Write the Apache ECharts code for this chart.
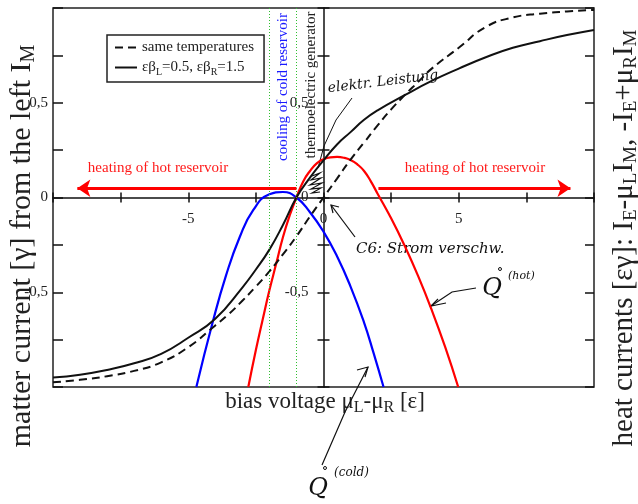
<!DOCTYPE html>
<html>
<head>
<meta charset="utf-8">
<script src="https://cdn.jsdelivr.net/npm/echarts@6.0.0/dist/echarts.min.js"></script>
<style>
  html, body { margin: 0; padding: 0; background: #fff; }
  #chart { width: 638px; height: 504px; }
</style>
</head>
<body>
<div id="chart"></div>
<script>
// matter current, same temperatures (dashed)
const sameTempX = [-10, -9, -8, -7, -6, -5, -4, -3.5, -3, -2.5, -2, -1.5, -1, -0.5, 0, 0.5, 1, 1.5, 2, 2.5, 3, 3.5, 4, 5, 6, 7, 8, 9, 10];
const sameTempY = [-0.975, -0.962, -0.943, -0.915, -0.87, -0.79, -0.675, -0.615, -0.545, -0.47, -0.39, -0.3, -0.205, -0.1, 0, 0.1, 0.2, 0.29, 0.38, 0.465, 0.54, 0.61, 0.68, 0.79, 0.9, 0.95, 0.97, 0.982, 0.99];

// matter current, eps*beta_L = 0.5, eps*beta_R = 1.5 (solid)
const unequalX = [-10, -9, -8, -7, -6, -5, -4, -3, -2.5, -2, -1.5, -1, -0.5, 0, 0.5, 1, 1.5, 2, 3, 4, 5, 6, 7, 8, 9, 10];
const unequalY = [-0.95, -0.935, -0.91, -0.875, -0.825, -0.74, -0.64, -0.475, -0.38, -0.275, -0.145, 0, 0.105, 0.196, 0.28, 0.345, 0.41, 0.46, 0.54, 0.615, 0.68, 0.74, 0.79, 0.825, 0.857, 0.884];

// heat current of the hot reservoir (red)
const hotX = [-2.78, -2.5, -2.25, -2, -1.75, -1.5, -1.25, -1, -0.75, -0.5, -0.25, 0, 0.25, 0.5, 0.75, 1, 1.25, 1.5, 1.75, 2, 2.5, 3, 3.5, 4, 4.5, 4.98];
const hotY = [-1, -0.805, -0.645, -0.49, -0.35, -0.21, -0.095, 0, 0.085, 0.14, 0.18, 0.202, 0.212, 0.214, 0.21, 0.198, 0.175, 0.14, 0.085, 0.02, -0.11, -0.255, -0.415, -0.593, -0.79, -1];

// heat current of the cold reservoir (blue)
const coldX = [-4.7, -4.1, -3.6, -3.1, -2.6, -2, -1.5, -1, -0.5, 0, 0.5, 1, 1.5, 1.85, 2.22];
const coldY = [-1, -0.66, -0.41, -0.21, -0.067, 0.017, 0.029, 0, -0.078, -0.18, -0.31, -0.47, -0.66, -0.82, -1];

// regions and tick labels
const regionLines = [-2, -1];
const heatArrowLeft = [-1, -9.1];
const heatArrowRight = [2.03, 9.13];
const heatArrowY = 0.049;
const xTickLabels = [-5, 0, 5];
const yTickLabels = { '0.5': '0,5', '0': '0', '-0.5': '-0,5' };

const X_MIN = -10, X_MAX = 10, Y_MIN = -1, Y_MAX = 1;
const GRID = { left: 53, top: 8, width: 541, height: 379 };

const serif = '"Liberation Serif", "Times New Roman", serif';
const hand = '"DejaVu Serif", serif';
const pairs = (xs, ys) => xs.map((x, i) => [x, ys[i]]);

const xFmt = v => (xTickLabels.indexOf(Math.round(v * 100) / 100) >= 0 ? String(v) : '');
const yFmt = v => {
  const k = String(Math.round(v * 100) / 100);
  return yTickLabels[k] !== undefined ? yTickLabels[k] : '';
};

const axisColor = '#111';
// the centre axes cross at zero; shift them in from the frame edges
const xZeroOffset = -GRID.height * (0 - Y_MIN) / (Y_MAX - Y_MIN);
const yZeroOffset = -GRID.width * (0 - X_MIN) / (X_MAX - X_MIN);

const centreX = (inside, labels) => ({
  type: 'value', min: X_MIN, max: X_MAX, interval: 2.5, position: 'bottom', offset: xZeroOffset,
  axisLine: { show: !inside, onZero: false, lineStyle: { color: axisColor, width: 1.5 } },
  axisTick: { show: true, inside: inside, length: 5, lineStyle: { color: axisColor, width: 1.5 } },
  axisLabel: { show: labels, margin: 14, formatter: xFmt, fontFamily: serif, fontSize: 15, color: '#222' },
  splitLine: { show: false }
});

const centreY = (inside, labels) => ({
  type: 'value', min: Y_MIN, max: Y_MAX, interval: 0.25, position: 'left', offset: yZeroOffset,
  axisLine: { show: !inside, onZero: false, lineStyle: { color: axisColor, width: 1.5 } },
  axisTick: { show: true, inside: inside, length: 6, lineStyle: { color: axisColor, width: 1.5 } },
  axisLabel: { show: labels, margin: 15, formatter: yFmt, fontFamily: serif, fontSize: 15, color: '#222' },
  splitLine: { show: false }
});

const frameY = (position, labels, len) => ({
  type: 'value', min: Y_MIN, max: Y_MAX, interval: 0.25, position: position,
  axisLine: { show: false, onZero: false },
  axisTick: { show: true, inside: true, length: len, lineStyle: { color: axisColor, width: 1.5 } },
  axisLabel: { show: labels, margin: 5, formatter: yFmt, fontFamily: serif, fontSize: 15, color: '#222' },
  splitLine: { show: false }
});

const chart = echarts.init(document.getElementById('chart'), null, { renderer: 'canvas' });

const option = {
  animation: false,
  backgroundColor: '#fff',
  grid: {
    left: GRID.left, top: GRID.top, width: GRID.width, height: GRID.height,
    show: true, borderColor: '#222', borderWidth: 1.5, backgroundColor: 'transparent',
    containLabel: false, outerBoundsMode: 'none'
  },
  legend: {
    orient: 'vertical', left: 107, top: 35,
    data: ['same temperatures', 'εβ_L=0.5, εβ_R=1.5'],
    borderColor: '#222', borderWidth: 1.5, padding: [5, 10, 5, 7],
    itemWidth: 22, itemHeight: 14, itemGap: 5,
    itemStyle: { opacity: 0 },
    formatter: name => name.replace(/_(\w)/g, '{sub|$1}'),
    textStyle: {
      fontFamily: serif, fontSize: 15, color: '#222',
      rich: { sub: { fontFamily: serif, fontSize: 10, color: '#222', padding: [9, 0, 0, 0] } }
    }
  },
  xAxis: [centreX(false, true), centreX(true, false)],
  yAxis: [centreY(false, true), centreY(true, false), frameY('left', true, 10), frameY('right', false, 9)],
  series: [
    {
      name: 'cold', type: 'line', data: pairs(coldX, coldY), smooth: true, symbol: 'none',
      lineStyle: { color: '#0000ff', width: 2.2 }, z: 3,
      markLine: {
        silent: true, symbol: ['none', 'none'], label: { show: false },
        lineStyle: { color: '#2fbf2f', width: 1, type: [1, 2] },
        data: regionLines.map(v => ({ xAxis: v }))
      }
    },
    {
      name: 'hot', type: 'line', data: pairs(hotX, hotY), smooth: true, symbol: 'none',
      lineStyle: { color: '#ff0000', width: 2.2 }, z: 3,
      markLine: {
        silent: true, symbol: ['none', 'arrow'], symbolSize: 13, label: { show: false },
        lineStyle: { color: '#ff0000', width: 3, type: 'solid' },
        data: [
          [{ coord: [heatArrowLeft[0], heatArrowY] }, { coord: [heatArrowLeft[1], heatArrowY] }],
          [{ coord: [heatArrowRight[0], heatArrowY] }, { coord: [heatArrowRight[1], heatArrowY] }]
        ]
      }
    },
    {
      name: 'same temperatures', type: 'line', data: pairs(sameTempX, sameTempY), smooth: true, symbol: 'none',
      lineStyle: { color: '#111', width: 2, type: [8, 5] }, itemStyle: { color: '#111' }, z: 4
    },
    {
      name: 'εβ_L=0.5, εβ_R=1.5', type: 'line', data: pairs(unequalX, unequalY), smooth: true, symbol: 'none',
      lineStyle: { color: '#111', width: 2 }, itemStyle: { color: '#111' }, z: 4
    }
  ],
  graphic: [
    // axis titles
    {
      type: 'text', x: 22, y: 246, rotation: Math.PI / 2,
      style: {
        text: 'matter current [γ] from the left I{sub|M}', align: 'center', verticalAlign: 'middle',
        font: '30px ' + serif, fill: '#222',
        rich: { sub: { fontFamily: serif, fontSize: 20, fill: '#222', padding: [14, 0, 0, 0] } }
      }
    },
    {
      type: 'text', x: 624, y: 238, rotation: Math.PI / 2,
      style: {
        text: 'heat currents [εγ]: I{sub|E}-μ{sub|L}I{sub|M}, -I{sub|E}+μ{sub|R}I{sub|M}', align: 'center', verticalAlign: 'middle',
        font: '29px ' + serif, fill: '#222',
        rich: { sub: { fontFamily: serif, fontSize: 19, fill: '#222', padding: [14, 0, 0, 0] } }
      }
    },
    {
      type: 'text', x: 325, y: 402,
      style: {
        text: 'bias voltage μ{sub|L}-μ{sub|R} [ε]', align: 'center', verticalAlign: 'middle',
        font: '23px ' + serif, fill: '#222',
        rich: { sub: { fontFamily: serif, fontSize: 16, fill: '#222', padding: [11, 0, 0, 0] } }
      }
    },
    // region labels
    {
      type: 'text', x: 283, y: 87, rotation: Math.PI / 2,
      style: { text: 'cooling of cold reservoir', align: 'center', verticalAlign: 'middle', font: '15px ' + serif, fill: '#1a1aff' }
    },
    {
      type: 'text', x: 311, y: 85, rotation: Math.PI / 2,
      style: { text: 'thermoelectric generator', align: 'center', verticalAlign: 'middle', font: '15px ' + serif, fill: '#222' }
    },
    {
      type: 'text', x: 158, y: 168,
      style: { text: 'heating of hot reservoir', align: 'center', verticalAlign: 'middle', font: '15px ' + serif, fill: '#ff1a1a' }
    },
    {
      type: 'text', x: 475, y: 168,
      style: { text: 'heating of hot reservoir', align: 'center', verticalAlign: 'middle', font: '15px ' + serif, fill: '#ff1a1a' }
    },
    // handwritten notes
    {
      type: 'text', x: 383, y: 82, rotation: 0.12,
      style: { text: 'elektr. Leistung', align: 'center', verticalAlign: 'middle', font: 'italic 14px ' + hand, fill: '#111' }
    },
    {
      type: 'polyline', shape: { points: [[352, 98], [336, 120], [324, 146], [318, 168]] },
      style: { stroke: '#111', lineWidth: 1, fill: null }
    },
    {
      type: 'polyline',
      shape: { points: [[312, 176], [320, 173], [311, 180], [321, 178], [310, 185], [322, 183], [311, 189], [321, 188], [312, 193], [320, 192]] },
      style: { stroke: '#111', lineWidth: 1.2, fill: null }
    },
    {
      type: 'text', x: 356, y: 249,
      style: { text: 'C6: Strom verschw.', align: 'left', verticalAlign: 'middle', font: 'italic 15px ' + hand, fill: '#111' }
    },
    {
      type: 'polyline', shape: { points: [[355, 237], [331, 205]] },
      style: { stroke: '#111', lineWidth: 1.2, fill: null }
    },
    {
      type: 'polyline', shape: { points: [[339, 207], [331, 205], [333, 213]] },
      style: { stroke: '#111', lineWidth: 1.2, fill: null }
    },
    {
      type: 'text', x: 492, y: 289,
      style: { text: 'Q', align: 'center', verticalAlign: 'middle', font: 'italic 24px ' + hand, fill: '#111' }
    },
    { type: 'circle', shape: { cx: 500, cy: 269, r: 1.5 }, style: { stroke: '#111', lineWidth: 1, fill: null } },
    {
      type: 'text', x: 508, y: 276,
      style: { text: '(hot)', align: 'left', verticalAlign: 'middle', font: 'italic 11px ' + hand, fill: '#111' }
    },
    {
      type: 'polyline', shape: { points: [[476, 288], [452, 292], [431, 306]] },
      style: { stroke: '#111', lineWidth: 1.2, fill: null }
    },
    {
      type: 'polyline', shape: { points: [[438, 299], [431, 306], [446, 303]] },
      style: { stroke: '#111', lineWidth: 1.2, fill: null }
    },
    {
      type: 'text', x: 318, y: 489,
      style: { text: 'Q', align: 'center', verticalAlign: 'middle', font: 'italic 24px ' + hand, fill: '#111' }
    },
    { type: 'circle', shape: { cx: 325, cy: 468, r: 1.5 }, style: { stroke: '#111', lineWidth: 1, fill: null } },
    {
      type: 'text', x: 334, y: 473,
      style: { text: '(cold)', align: 'left', verticalAlign: 'middle', font: 'italic 12px ' + hand, fill: '#111' }
    },
    {
      type: 'polyline', shape: { points: [[322, 465], [345, 412], [368, 367]] },
      style: { stroke: '#111', lineWidth: 1.2, fill: null }
    },
    {
      type: 'polyline', shape: { points: [[357, 370], [368, 367], [365, 377]] },
      style: { stroke: '#111', lineWidth: 1.2, fill: null }
    }
  ]
};

chart.setOption(option);
</script>
</body>
</html>
